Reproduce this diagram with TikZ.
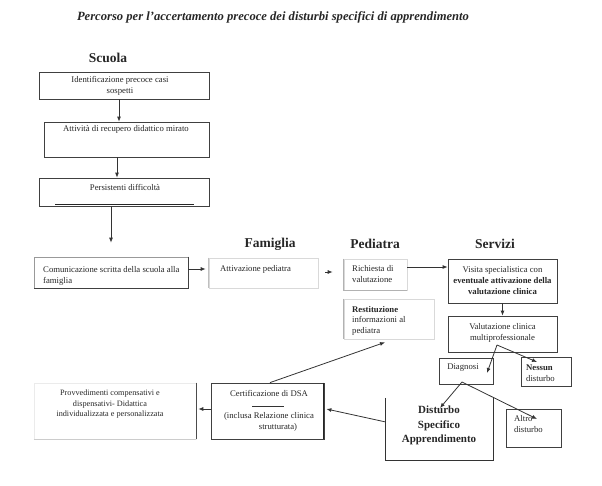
\documentclass[tikz,border=0pt]{standalone}
\usepackage{fontspec}
\setmainfont{Liberation Serif}
\usetikzlibrary{arrows.meta}
\begin{document}
\begin{tikzpicture}[x=1pt,y=-1pt,
  every node/.style={text=black!85},
  box/.style={draw=black!75, line width=0.8pt, inner sep=0pt},
  faint/.style={draw=black!15, line width=0.6pt, inner sep=0pt},
  txt/.style={font=\fontsize{8.7}{11}\selectfont, inner sep=0pt},
  head/.style={font=\fontsize{13.5}{15}\selectfont\bfseries, inner sep=0pt},
  arr/.style={draw=black!80, line width=0.8pt, -{Latex[length=5pt,width=4pt]}}
]
\useasboundingbox (0,0) rectangle (602,485);

% title
\node[inner sep=0pt, font=\fontsize{12.6}{15}\selectfont\bfseries\itshape] (title) at (273,17) {Percorso per l’accertamento precoce dei disturbi specifici di apprendimento};

% headings
\node[head] (hscuola) at (108,58) {Scuola};
\node[head] (hfam) at (270,244) {Famiglia};
\node[head] (hped) at (375,244) {Pediatra};
\node[head] (hserv) at (495,244) {Servizi};

% school column
\node[box, minimum width=170pt, minimum height=27pt] (b1) at (124,85.5) {};
\node[txt, align=center] (t1) at (120,86) {Identificazione precoce casi\\sospetti};
\node[box, minimum width=165pt, minimum height=35pt] (b2) at (126.5,139.5) {};
\node[txt] (t2) at (126,129) {Attività di recupero didattico mirato};
\node[box, minimum width=170pt, minimum height=28pt] (b3) at (124,192) {};
\node[txt] (t3) at (125,187) {Persistenti difficoltà};
\coordinate (l3a) at (55,204.5);
\coordinate (l3b) at (194,204.5);
\draw[line width=1.6pt, black!85] (l3a) -- (l3b);

\draw[arr] ([xshift=-5pt]b1.south) -- ([xshift=-7.5pt]b2.north);
\draw[arr] ([xshift=-9.5pt]b2.south) -- ([xshift=-7pt]b3.north);

% comunicazione
\node[draw=black!40, line width=0.7pt, inner sep=0pt, minimum width=154pt, minimum height=31pt] (comm) at (111,272.5) {};
\draw[black!75, line width=0.9pt] (comm.north east) -- (comm.south east) -- (comm.south west);
\node[txt, align=left, anchor=west] (tcomm) at (43,276) {Comunicazione scritta della scuola alla\\famiglia};
\draw[arr, shorten >=14pt] (b3.south -| comm.north) -- (comm.north);

% attivazione
\node[faint, minimum width=109pt, minimum height=30pt] (att) at (263.5,273) {};
\draw[black!25, line width=0.8pt] (att.north west) -- (att.south west);
\node[txt, anchor=west] (tatt) at (220,269) {Attivazione pediatra};
\draw[arr] ([yshift=3.5pt]comm.east) -- ([yshift=4pt,xshift=-3pt]att.west);

% richiesta
\node[faint, minimum width=63pt, minimum height=31pt] (rich) at (375.5,274.5) {};
\draw[black!30, line width=0.8pt] (rich.north west) -- (rich.south west) -- (rich.south east);
\node[txt, align=left, anchor=west] (trich) at (352,274.5) {Richiesta di\\valutazione};
\draw[arr, shorten <=7pt, shorten >=11pt] ([yshift=1pt]att.east) -- ([yshift=2.5pt]rich.west);

% restituzione
\node[faint, minimum width=90pt, minimum height=40pt] (rest) at (389,319) {};
\draw[black!30, line width=0.8pt] (rest.north west) -- (rest.south west);
\node[txt, align=left, anchor=west, font=\fontsize{8.7}{10.5}\selectfont] (trest) at (352,320.5) {\textbf{Restituzione}\\informazioni al\\pediatra};

% servizi
\node[box, minimum width=109pt, minimum height=44pt] (vis) at (502.5,281) {};
\node[txt, align=center] (tvis) at (502.5,281) {Visita specialistica con\\\textbf{eventuale attivazione della}\\\textbf{valutazione clinica}};
\draw[arr] ([yshift=7.5pt]rich.east) -- ([yshift=14pt]vis.west);
\node[box, minimum width=109pt, minimum height=36pt] (val) at (502.5,334) {};
\node[txt, align=center] (tval) at (502.5,332.5) {Valutazione clinica\\multiprofessionale};
\draw[arr] (vis.south) -- (val.north);

\node[box, minimum width=54pt, minimum height=26pt] (diag) at (466,371) {};
\node[txt] (tdiag) at (463,368) {Diagnosi};
\node[box, minimum width=50pt, minimum height=29pt] (ness) at (546,371.5) {};
\node[txt, align=left, anchor=west] (tness) at (526,373.5) {\textbf{Nessun}\\disturbo};
\coordinate (br) at (497,345);
\coordinate (brd) at (487,373);
\coordinate (brn) at (537,362);
\draw[arr] (br) -- (brd);
\draw[arr] (br) -- (brn);

% DSA
\node[inner sep=0pt, minimum width=107pt, minimum height=62pt] (dsa) at (439.5,429) {};
\draw[black!80, line width=0.9pt] (dsa.north west) -- (dsa.south west) -- (dsa.south east) -- (dsa.north east);
\node[inner sep=0pt, align=center, font=\fontsize{11}{14.5}\selectfont\bfseries] (tdsa) at (439,425.5) {Disturbo\\Specifico\\Apprendimento};

\node[box, minimum width=55pt, minimum height=38pt] (altro) at (533.5,428) {};
\node[txt, align=left, anchor=west] (taltro) at (514,424.5) {Altro\\disturbo};

\coordinate (d0) at (462,382);
\coordinate (dd) at (440,408);
\coordinate (da) at (537,419);
\draw[arr] (d0) -- (dd);
\draw[arr] (d0) -- (da);

% certificazione
\node[box, minimum width=113pt, minimum height=56pt] (cert) at (267.5,411) {};
\draw[black!85, line width=1.6pt] ([xshift=-1pt]cert.north east) -- ([xshift=-1pt]cert.south east);
\node[txt] (tcert1) at (269,393) {Certificazione di DSA};
\coordinate (cr1) at (252,406);
\coordinate (cr2) at (284,406);
\draw[black!80, line width=0.8pt] (cr1) -- (cr2);
\node[txt] (tcert2) at (269,416.5) {(inclusa Relazione clinica};
\node[txt] (tcert3) at (278,427.5) {strutturata)};

\draw[arr] ([yshift=7pt]dsa.west) -- ([xshift=2pt,yshift=2pt]cert.east);
\draw[arr] ([xshift=2.5pt]cert.north) -- ([xshift=-4pt,yshift=-3pt]rest.south);

% provvedimenti
\node[faint, draw=black!8, minimum width=162pt, minimum height=56pt] (prov) at (115,411) {};
\draw[black!70, line width=1pt] (prov.north east) -- (prov.south east);
\draw[black!20, line width=0.8pt] (prov.south west) -- (prov.south east);
\node[txt, align=center, font=\fontsize{8.2}{10.5}\selectfont] (tprov) at (110,404.5) {Provvedimenti compensativi e\\dispensativi- Didattica\\individualizzata e personalizzata};
\draw[arr] ([yshift=2pt]cert.west) -- ([xshift=2pt,yshift=2pt]prov.east);
\end{tikzpicture}
\end{document}
